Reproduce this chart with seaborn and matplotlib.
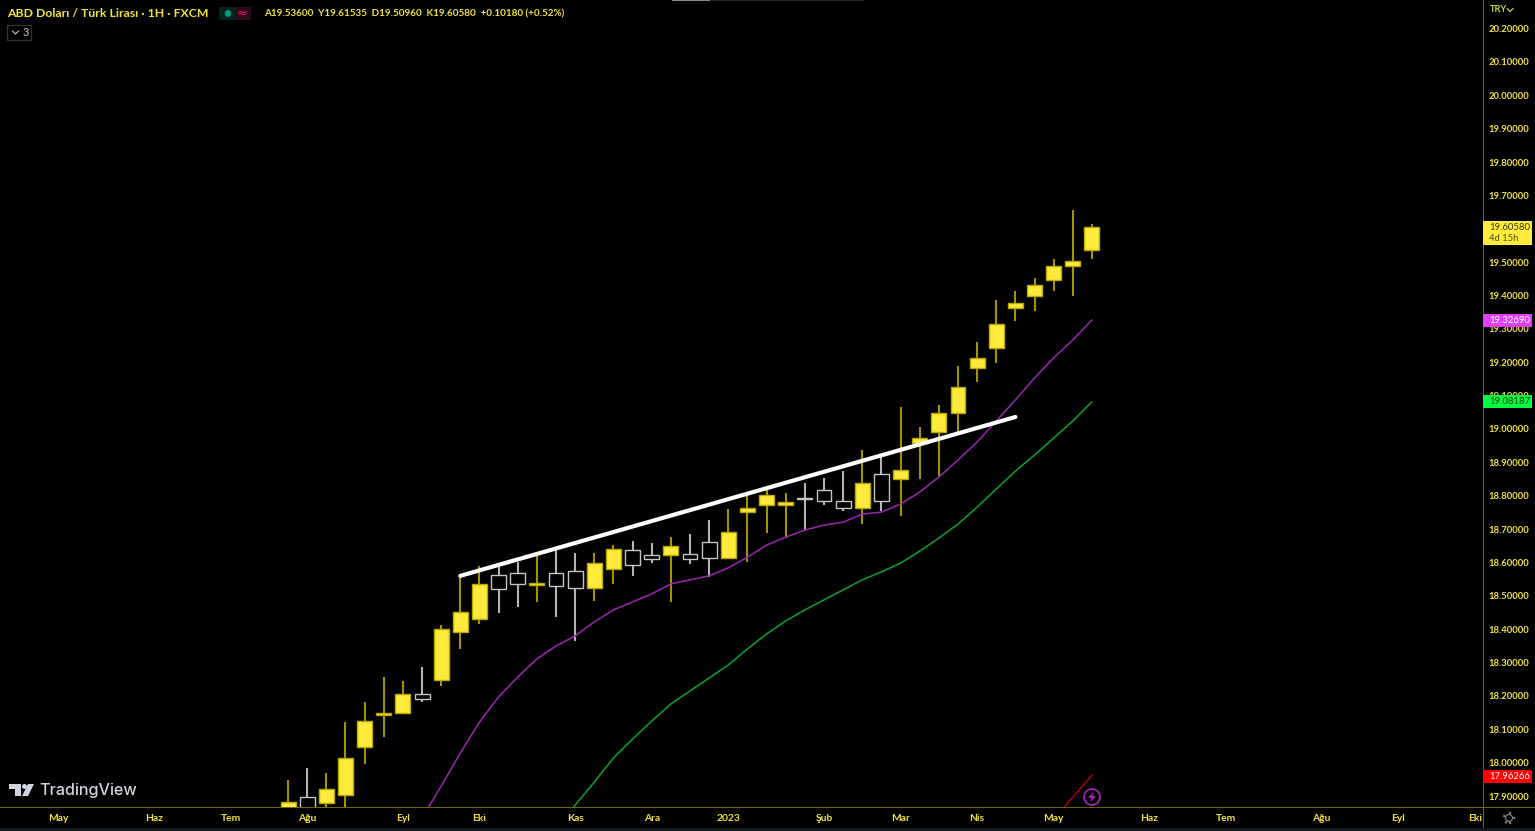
import numpy as np
import pandas as pd
import matplotlib
matplotlib.use("Agg")
import matplotlib.pyplot as plt
from matplotlib.lines import Line2D
from matplotlib.patches import Rectangle, Circle, Polygon
from matplotlib.transforms import IdentityTransform
import seaborn as sns

# weekly candles
opens = [17.850, 17.897, 17.879, 17.903, 18.047, 18.143, 18.149, 18.206, 18.248, 18.392, 18.431,
         18.563, 18.569, 18.533, 18.569, 18.575, 18.524, 18.581, 18.637, 18.622, 18.622, 18.625,
         18.661, 18.613, 18.751, 18.772, 18.772, 18.793, 18.817, 18.784, 18.763, 18.865, 18.850,
         18.958, 18.991, 19.048, 19.183, 19.243, 19.363, 19.399, 19.446, 19.488, 19.536]
highs = [17.948, 17.984, 17.969, 18.122, 18.182, 18.257, 18.245, 18.287, 18.413, 18.557, 18.590,
         18.587, 18.602, 18.622, 18.637, 18.628, 18.628, 18.652, 18.664, 18.658, 18.676, 18.685,
         18.727, 18.760, 18.802, 18.820, 18.808, 18.838, 18.853, 18.874, 18.937, 18.916, 19.066,
         19.006, 19.072, 19.189, 19.261, 19.387, 19.414, 19.452, 19.509, 19.656, 19.615]
lows = [17.840, 17.840, 17.867, 17.840, 17.996, 18.077, 18.149, 18.182, 18.230, 18.341, 18.416,
        18.449, 18.467, 18.482, 18.437, 18.365, 18.485, 18.536, 18.560, 18.598, 18.482, 18.595,
        18.557, 18.613, 18.602, 18.688, 18.673, 18.697, 18.772, 18.754, 18.715, 18.754, 18.739,
        18.850, 18.859, 18.991, 19.141, 19.198, 19.324, 19.354, 19.414, 19.399, 19.510]
closes = [17.882, 17.850, 17.921, 18.014, 18.125, 18.149, 18.206, 18.191, 18.401, 18.452, 18.536,
          18.521, 18.536, 18.539, 18.530, 18.524, 18.598, 18.640, 18.592, 18.610, 18.649, 18.610,
          18.613, 18.691, 18.763, 18.802, 18.781, 18.790, 18.784, 18.763, 18.838, 18.784, 18.877,
          18.973, 19.048, 19.126, 19.213, 19.315, 19.378, 19.432, 19.488, 19.503, 19.6058]

# moving averages, each ends on the last candle
ma_purple = [17.834, 17.930, 18.029, 18.122, 18.197, 18.257, 18.311, 18.350, 18.380, 18.422, 18.458,
             18.482, 18.506, 18.536, 18.548, 18.560, 18.584, 18.616, 18.652, 18.676, 18.697, 18.712,
             18.721, 18.745, 18.751, 18.775, 18.811, 18.856, 18.907, 18.961, 19.024, 19.087, 19.153,
             19.213, 19.267, 19.3269]
ma_green = [17.798, 17.873, 17.942, 18.014, 18.071, 18.125, 18.176, 18.215, 18.254, 18.293, 18.341,
            18.386, 18.425, 18.458, 18.488, 18.518, 18.548, 18.572, 18.598, 18.634, 18.673, 18.715,
            18.766, 18.820, 18.874, 18.922, 18.973, 19.024, 19.08187]
ma_red = [17.828, 17.897, 17.96266]

trend_x = [9, 38]
trend_y = [18.560, 19.036]

month_labels = ["May", "Haz", "Tem", "Ağu", "Eyl", "Eki", "Kas", "Ara", "2023", "Şub", "Mar", "Nis",
                "May", "Haz", "Tem", "Ağu", "Eyl", "Eki"]
month_pos = [-12, -7, -3, 1, 6, 10, 15, 19, 23, 28, 32, 36, 40, 45, 49, 54, 58, 62]
price_ticks = [17.9, 18.0, 18.1, 18.2, 18.3, 18.4, 18.5, 18.6, 18.7, 18.8, 18.9, 19.0, 19.1, 19.2,
               19.3, 19.4, 19.5, 19.6, 19.7, 19.8, 19.9, 20.0, 20.1, 20.2]

sns.set_theme(style="dark")
plt.rcParams["font.family"] = ["Lato", "DejaVu Sans"]

W, H = 1535, 831
YEL = "#F2E33C"
LINE = "#6E6700"
UP = "#FFEB3B"
PIX = IdentityTransform()

df = pd.DataFrame({"open": opens, "high": highs, "low": lows, "close": closes})
df["i"] = np.arange(len(df))
df["up"] = df["close"] >= df["open"]

fig = plt.figure(figsize=(W / 100, H / 100), dpi=100, facecolor="black")
ax = fig.add_axes([0, (H - 807) / H, 1483 / W, 807 / H], facecolor="black")

# wicks
wick_col = np.where(df["up"], "#A39300", "#B4B4B4")
ax.vlines(df["i"], df["low"], df["high"], colors=wick_col, lw=1.5, zorder=2)

# bodies
up = df[df["up"]]
down = df[~df["up"]]
ax.bar(up["i"], up["close"] - up["open"], bottom=up["open"], width=0.78, color=UP,
       edgecolor="#B8A800", lw=1, zorder=3)
ax.bar(down["i"], down["close"] - down["open"], bottom=down["open"], width=0.78, color="black",
       edgecolor="#C4C4C4", lw=1, zorder=3)

# averages go through seaborn
n = len(df)
for vals, col in [(ma_purple, "#9C27B0"), (ma_green, "#0BA52C"), (ma_red, "#B00012")]:
    sns.lineplot(x=df["i"].values[n - len(vals):], y=vals, color=col, lw=1.1, ax=ax, zorder=4,
                 legend=False)

sns.lineplot(x=trend_x, y=trend_y, color="white", lw=3, ax=ax, zorder=5, legend=False)

ax.set_xlim(-15.05, 62.43)
ax.set_ylim(17.8674, 20.2854)
ax.set_xticks(month_pos)
ax.set_xticklabels(month_labels)
ax.set_yticks(price_ticks)
ax.set_yticklabels([f"{p:.5f}" for p in price_ticks])
ax.yaxis.tick_right()
ax.tick_params(axis="x", length=0, pad=5, labelsize=7.4, labelcolor=YEL)
ax.tick_params(axis="y", length=0, pad=4, labelsize=6.8, labelcolor=YEL)
for lab in ax.get_xticklabels() + ax.get_yticklabels():
    lab.set_fontweight("bold")
ax.grid(False)
ax.set_xlabel("")
ax.set_ylabel("")
for s in ax.spines.values():
    s.set_visible(False)


def px(x, y):
    return x, H - y


def box(x0, y0, x1, y1, col, z=6):
    fig.add_artist(Rectangle(px(x0, y1), x1 - x0, y1 - y0, transform=PIX, facecolor=col,
                             edgecolor="none", zorder=z))


def label(x, y, s, col, size=6.8, weight="normal", ha="left", **kw):
    fig.text(*px(x, y), s, color=col, fontsize=size, fontweight=weight, ha=ha, va="center",
             transform=PIX, zorder=8, **kw)


def chevron(x, y, col):
    xs = [x - 3, x, x + 3]
    ys = [H - y + 1.5, H - y - 1.5, H - y + 1.5]
    fig.add_artist(Line2D(xs, ys, transform=PIX, color=col, lw=0.9, zorder=8))


def shape(pts, col):
    fig.add_artist(Polygon([px(*p) for p in pts], transform=PIX, facecolor=col, edgecolor="none",
                           zorder=8))


# frame lines
box(0, 807, W, 808, LINE, z=3)
box(1483, 0, 1484, H, LINE, z=3)
box(0, 828, W, H, "#161A25", z=3)
box(672, 0, 864, 1, "#2A2A2A", z=3)
box(672, 0, 710, 1, "#8A8A8A", z=3)

# price tags on the axis
box(1483, 221, 1532, 245, UP)
label(1489, 227, "19.60580", "#3A3A10")
label(1489, 238.5, "4d 15h", "#55501A")
box(1483, 314, 1532, 327, "#E040FB")
label(1489, 320.5, "19.32690", "white")
box(1483, 395, 1532, 408, "#00FF41")
label(1489, 401.5, "19.08187", "#123B12")
box(1483, 770, 1532, 783, "#FF0000")
label(1489, 776.5, "17.96266", "white")

label(1490, 10, "TRY", "#C8DC32", size=6.6, weight="bold")
chevron(1510, 10, "#C8DC32")

# header
label(7, 13.5, "ABD Doları / Türk Lirası · 1H · FXCM", YEL, size=8.8, weight="bold")
label(264, 14, "A19.53600  Y19.61535  D19.50960  K19.60580  +0.10180 (+0.52%)", YEL, size=7.1,
      weight="bold")

box(219, 7, 235, 20, "#06231F", z=6)
box(235, 7, 251, 20, "#2B0A1C", z=6)
fig.add_artist(Circle(px(228, 13.5), 3.3, transform=PIX, facecolor="#089981", edgecolor="none",
                      zorder=7))
label(242, 13, "≈", "#E91E63", size=9, ha="center", family=["DejaVu Sans"])

fig.add_artist(Rectangle(px(7, 40), 24, 15, transform=PIX, facecolor="black", edgecolor="#2E3138",
                         lw=1, zorder=6))
chevron(15.5, 32.5, "#B8BBC2")
label(23, 32.5, "3", "#C8CBD2", size=8)

# logo
logo_col = "#D1D4DC"
shape([(9, 784), (21, 784), (21, 796), (15, 796), (15, 789), (9, 789)], logo_col)
fig.add_artist(Circle(px(24.5, 786.5), 2.5, transform=PIX, facecolor=logo_col, edgecolor="none",
                      zorder=8))
shape([(28, 784), (34, 784), (28, 796), (22, 796)], logo_col)
label(39, 790.5, "TradingView", logo_col, size=11.6, weight="medium", family=["Inter", "DejaVu Sans"])

# lightning badge
fig.add_artist(Circle(px(1092, 797), 8, transform=PIX, facecolor="black", edgecolor="#9C27B0",
                      lw=1.3, zorder=7))
shape([(1094, 791), (1088, 798), (1091.5, 798), (1090, 803), (1096, 796), (1092.5, 796)], "#9C27B0")

# settings gear
fig.add_artist(Circle(px(1509, 818), 3.5, transform=PIX, facecolor="none", edgecolor="#7A7D84",
                      lw=0.9, zorder=7))
fig.add_artist(Circle(px(1509, 818), 5.2, transform=PIX, facecolor="none", edgecolor="#7A7D84",
                      lw=1.6, ls=(0, (1, 2.2)), zorder=7))

fig.savefig("out.png", dpi=100, facecolor="black")
